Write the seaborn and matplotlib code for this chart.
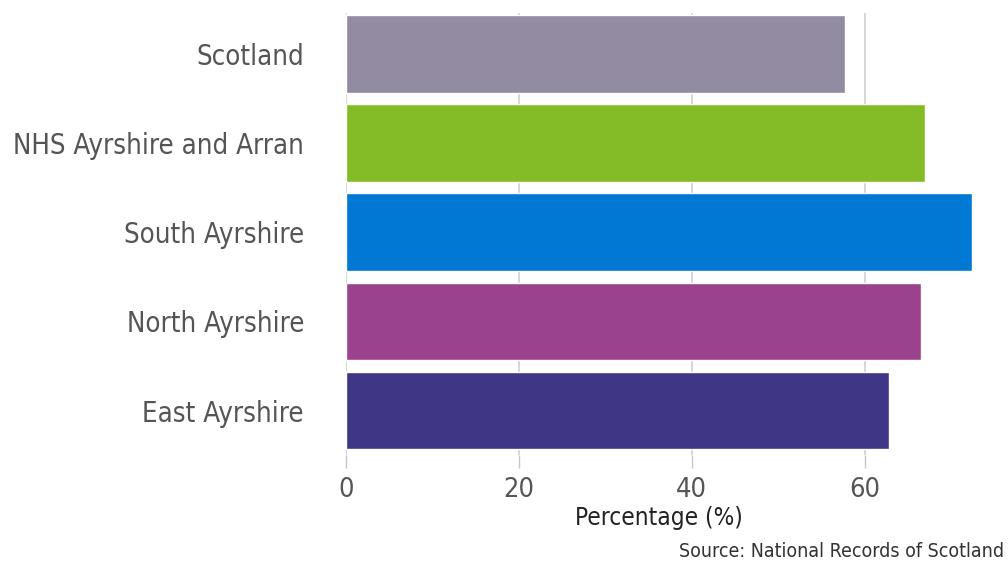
import matplotlib
matplotlib.use("Agg")
import matplotlib.pyplot as plt
import seaborn as sns
import pandas as pd

categories = ["Scotland", "NHS Ayrshire and Arran", "South Ayrshire", "North Ayrshire", "East Ayrshire"]
values = [57.7, 67.0, 72.4, 66.5, 62.8]
colors = ["#938BA1", "#83BC27", "#0078D4", "#9B428F", "#3F3685"]
x_ticks = [0, 20, 40, 60]

sns.set_theme(style="white")
plt.rcParams["font.family"] = ["DejaVu Sans"]
plt.rcParams["font.stretch"] = "condensed"

df = pd.DataFrame({"area": categories, "pct": values})

fig = plt.figure(figsize=(10.08, 5.62), dpi=100)
ax = fig.add_axes([0.343, 0.190, 0.621, 0.787])
sns.barplot(data=df, y="area", x="pct", hue="area", palette=colors,
            order=categories, width=0.87, legend=False, ax=ax, saturation=1)
ax.set_xlim(0, max(values))
ax.set_ylim(4.5, -0.46)
ax.set_xticks(x_ticks)
ax.grid(axis="x", color="#d0d0d0", linewidth=1.2)
ax.set_axisbelow(True)
for s in ax.spines.values():
    s.set_visible(False)
ax.tick_params(axis="y", length=0, pad=30, labelsize=19.8, labelcolor="#555555")
ax.tick_params(axis="x", length=9, width=1, color="#c8c8c8", pad=7, labelsize=19.5, labelcolor="#555555", bottom=True)
ax.set_ylabel("")
ax.set_xlabel("Percentage (%)", fontsize=17.5, color="#222222", labelpad=2)
fig.text(0.996, 0.002, "Source: National Records of Scotland", ha="right", va="bottom", fontsize=14, color="#333333")
fig.savefig("out.png", dpi=100)
